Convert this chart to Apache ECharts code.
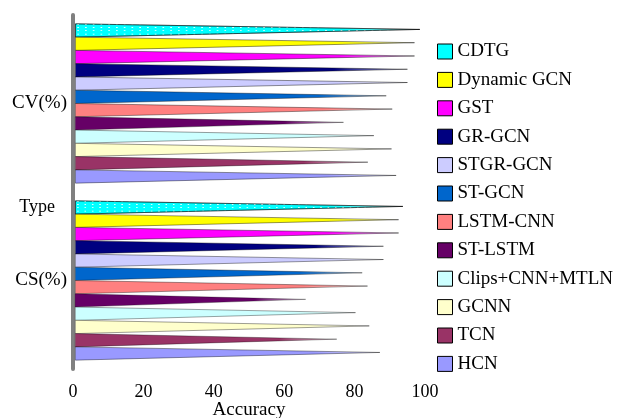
<!DOCTYPE html>
<html>
<head>
<meta charset="utf-8">
<script src="https://cdn.jsdelivr.net/npm/echarts@6/dist/echarts.min.js"></script>
<style>
  html, body { margin: 0; padding: 0; background: #fff; }
  #accuracyChart { width: 621px; height: 418px; }
</style>
</head>
<body>
<div id="accuracyChart"></div>
<script>
// categories on the y axis (bottom first)
var types = ['CS(%)', 'CV(%)'];
var xTicks = [0, 20, 40, 60, 80, 100];

// methods, in legend order (top to bottom)
var methods = ['CDTG', 'Dynamic GCN', 'GST', 'GR-GCN', 'STGR-GCN', 'ST-GCN',
               'LSTM-CNN', 'ST-LSTM', 'Clips+CNN+MTLN', 'GCNN', 'TCN', 'HCN'];
var colors = ['#00ffff', '#ffff00', '#ff00ff', '#000080', '#ccccff', '#0066cc',
              '#ff8080', '#660066', '#ccffff', '#ffffcc', '#993366', '#9999ff'];

// accuracy values
var csValues = [93.0, 91.8, 91.8, 87.5, 87.5, 81.5, 83.0, 65.5, 79.6, 83.5, 74.3, 86.5];
var cvValues = [97.8, 96.3, 96.3, 94.3, 94.3, 88.3, 90.0, 76.2, 84.8, 89.8, 83.1, 91.1];

var chart = echarts.init(document.getElementById('accuracyChart'));
var serif = "Liberation Serif, Times New Roman, serif";

var series = methods.map(function (name, i) {
    var style = {
        color: {
            type: 'linear', x: 0, y: 0, x2: 1, y2: 0,
            colorStops: [
                {offset: 0, color: colors[i]},
                {offset: 0.78, color: colors[i]},
                {offset: 1, color: echarts.color.lift(colors[i], 0.75)}
            ]
        },
        borderColor: '#000',
        borderWidth: 1
    };
    if (name === 'CDTG') {
        // white dotted fill
        style.decal = {
            symbol: 'rect',
            symbolSize: 1,
            color: 'rgba(255,255,255,0.85)',
            dashArrayX: [2, 7],
            dashArrayY: [2, 5]
        };
    }
    return {
        name: name,
        type: 'pictorialBar',
        symbol: 'path://M0,0 L100,42 L0,100 Z',
        symbolSize: ['100%', '100%'],
        symbolPosition: 'start',
        barGap: '0%',
        barCategoryGap: '10%',
        itemStyle: style,
        data: [csValues[i], cvValues[i]]
    };
});

var legendText = {fontFamily: serif, fontSize: 19, color: '#000', lineHeight: 19};

var option = {
    animation: false,
    grid: {left: 73, right: 196, top: 15, bottom: 49, outerBoundsMode: 'none', containLabel: false},
    legend: {
        orient: 'vertical',
        left: 432,
        top: 37,
        icon: 'rect',
        itemWidth: 15,
        itemHeight: 15,
        itemGap: 9.4,
        textStyle: legendText,
        data: methods.map(function (name, i) {
            return {
                name: name,
                textStyle: legendText,
                itemStyle: {color: colors[i], borderColor: '#000', borderWidth: 1, decal: 'none'}
            };
        })
    },
    xAxis: {
        type: 'value',
        min: xTicks[0],
        max: xTicks[xTicks.length - 1],
        interval: xTicks[1] - xTicks[0],
        name: 'Accuracy',
        nameLocation: 'middle',
        nameGap: 32,
        nameMoveOverlap: false,
        nameTextStyle: {fontFamily: serif, fontSize: 19, color: '#000'},
        splitLine: {show: false},
        axisLine: {lineStyle: {color: '#000', width: 1}},
        axisTick: {inside: true, length: 5, lineStyle: {color: '#000'}},
        axisLabel: {fontFamily: serif, fontSize: 18, color: '#000', margin: 14}
    },
    yAxis: {
        type: 'category',
        data: types,
        name: 'Type',
        nameLocation: 'middle',
        nameRotate: 0,
        nameGap: 18,
        nameMoveOverlap: false,
        nameTextStyle: {fontFamily: serif, fontSize: 18, color: '#000', verticalAlign: 'top', padding: [6, 0, 0, 0]},
        axisLine: {lineStyle: {color: '#808080', width: 4}},
        axisTick: {length: 4, lineStyle: {color: '#000'}},
        axisLabel: {fontFamily: serif, fontSize: 19, color: '#000', margin: 6}
    },
    series: series
};
chart.setOption(option);
</script>
</body>
</html>
